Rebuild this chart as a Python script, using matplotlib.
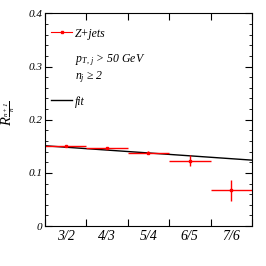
import numpy as np
import matplotlib.pyplot as plt
from matplotlib.ticker import MultipleLocator
from matplotlib.lines import Line2D

plt.rcParams['font.family'] = ['Liberation Serif', 'DejaVu Serif']
plt.rcParams['font.style'] = 'italic'
plt.rcParams['mathtext.fontset'] = 'custom'
plt.rcParams['mathtext.rm'] = 'Liberation Serif'
plt.rcParams['mathtext.it'] = 'Liberation Serif:italic'

# data
bin_labels = ['3/2', '4/3', '5/4', '6/5', '7/6']
ratio = [0.150, 0.147, 0.138, 0.123, 0.067]
ratio_err = [0.001, 0.002, 0.003, 0.010, 0.020]
# linear fit R = a + b*x over bin index
fit_a = 0.151
fit_b = -0.0054

x = np.arange(len(bin_labels)) + 0.5

fig = plt.figure(figsize=(2.66, 2.66), dpi=100)
ax = fig.add_axes([0.169, 0.15, 0.778, 0.80])

xf = np.array([0, len(bin_labels)])
ax.plot(xf, fit_a + fit_b * xf, color='black', lw=1.0)
ax.errorbar(x, ratio, xerr=0.5, yerr=ratio_err, fmt='s', ms=2, color='red',
            elinewidth=1.0, capsize=0)

ax.set_xlim(0, len(bin_labels))
ax.set_ylim(0, 0.4)
ax.set_xticks(np.arange(len(bin_labels) + 1))
ax.set_xticklabels([])
ax.set_xticks(x, minor=True)
ax.set_xticklabels(bin_labels, minor=True)
ax.tick_params(axis='x', which='minor', length=0, pad=3)
ax.tick_params(axis='x', which='major', direction='in', length=5, top=True)
ax.yaxis.set_minor_locator(MultipleLocator(0.02))
ax.set_yticks([0, 0.1, 0.2, 0.3, 0.4])
ax.set_yticklabels(['0', '0.1', '0.2', '0.3', '0.4'])
ax.tick_params(axis='y', which='both', direction='in', right=True)
ax.tick_params(axis='y', which='major', length=5, pad=2)
ax.tick_params(axis='y', which='minor', length=2.5)
ax.tick_params(labelsize=8)
for s in ax.spines.values():
    s.set_linewidth(0.8)

ax.set_ylabel(r'$R_{\frac{n+1}{n}}$', fontsize=10.5)
ax.yaxis.set_label_coords(-0.135, 0.53)

zj = Line2D([], [], color='red', lw=0.8, marker='s', ms=2)
fit = Line2D([], [], color='black', lw=1.0)
leg1 = ax.legend([zj], ['Z+jets'], loc='center left', bbox_to_anchor=(0.03, 0.905),
                 frameon=False, fontsize=8.5, handlelength=1.8, handletextpad=0.2,
                 borderpad=0, borderaxespad=0)
ax.add_artist(leg1)
ax.legend([fit], ['fit'], loc='center left', bbox_to_anchor=(0.03, 0.585),
          frameon=False, fontsize=8.5, handlelength=1.8, handletextpad=0.2,
          borderpad=0, borderaxespad=0)
ax.text(0.145, 0.77, r'$p_{T,\,j}$ > 50 GeV', transform=ax.transAxes, fontsize=8.5)
ax.text(0.145, 0.69, r'$n_j$ ≥ 2', transform=ax.transAxes, fontsize=8.5)

fig.savefig('out.png', dpi=100)
